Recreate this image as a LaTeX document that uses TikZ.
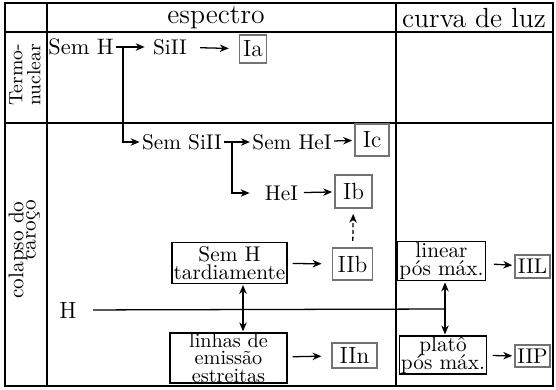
\documentclass[tikz,border=0pt]{standalone}
\usetikzlibrary{arrows.meta}
\newcommand\mytightls{\lineskiplimit=-20pt\relax}
\begin{document}
\begin{tikzpicture}[x=0.47pt,y=-0.47pt,
  >={Stealth[length=4.2pt,width=3.5pt]},
  conn/.style={line width=0.6pt},
  txt/.style={inner sep=1pt, font=\fontsize{10}{12}\selectfont},
  cls/.style={draw=black!55, line width=0.7pt, inner sep=0pt, font=\fontsize{11}{13}\selectfont},
  tbox/.style={draw, line width=0.6pt, inner xsep=0.8pt, inner ysep=0.6pt, align=center},
  gridline/.style={line width=0.8pt},
  hdr/.style={inner sep=1pt, font=\fontsize{13}{15}\selectfont},
  side/.style={rotate=90, inner sep=0pt, font=\fontsize{10}{12}\selectfont}]
\useasboundingbox (0,0) rectangle (556,389);
% table frame
\draw[line width=1pt] (5,3) rectangle (553,386);
\draw[gridline] (47,3) -- (47,386);
\draw[gridline] (396,3) -- (396,386);
\draw[gridline] (5,32) -- (553,32);
\draw[gridline] (5,123) -- (553,123);
% headers
\node[hdr] (hspec) at (216,18) {espectro};
\node[hdr] (hcurva) at (474,18) {curva de luz};
\node[side, align=right, font={\fontsize{9}{8.5}\selectfont}] (termo) at (25,75) {Termo-\\nuclear};
\node[side] (col1) at (18,250) {colapso do};
\node[side] (col2) at (33,230) {caroço};
% nodes
\node[txt, font={\fontsize{10.5}{12}\selectfont}] (semH) at (81,47) {Sem H};
\node[txt] (siII) at (170,47) {SiII};
\node[cls, minimum width=12.7pt, minimum height=13.1pt] (Ia) at (253,49) {Ia};
\node[txt] (semSiII) at (182,142) {Sem SiII};
\node[txt] (semHeI) at (292,142) {Sem HeI};
\node[cls, minimum width=16pt, minimum height=15pt] (Ic) at (372,140) {Ic};
\node[txt] (heI) at (281.5,193) {HeI};
\node[cls, minimum width=17.4pt, minimum height=15.5pt] (Ib) at (353.5,191.5) {Ib};
\node[tbox, inner ysep=1.7pt, font={\fontsize{10}{8.5}\selectfont}] (tard) at (229.5,263) {Sem H\\tardiamente};
\node[cls, minimum width=19pt, minimum height=15pt] (IIb) at (352.5,264) {IIb};
\node[tbox, minimum width=55pt, inner ysep=0pt, font={\fontsize{9.5}{8.4}\selectfont\mytightls}] (linhas) at (228.5,358) {linhas de\\emissão\\estreitas};
\node[cls, minimum width=21pt, minimum height=11.7pt] (IIn) at (354.5,355.5) {IIn};
\node[txt, font={\fontsize{11}{13}\selectfont}] (H) at (68,310) {H};
\node[tbox, font={\fontsize{10}{8.5}\selectfont\mytightls}] (linear) at (441.5,261) {linear\\pós máx.};
\node[cls, font={\fontsize{10}{12}\selectfont}, minimum width=16.4pt, minimum height=10.8pt] (IIL) at (532.5,266.5) {IIL};
\node[tbox, inner ysep=0.2pt, font={\fontsize{10}{8.5}\selectfont\mytightls}] (plato) at (443,355) {platô\\pós máx.};
\node[cls, font={\fontsize{10}{12}\selectfont}, minimum width=16.4pt, minimum height=10.3pt] (IIP) at (532.5,356) {IIP};
% junctions
\coordinate (j1) at (123,47);
\coordinate (j2) at (232,142);
\coordinate (hr) at (445,309);
\coordinate (vl) at (243,309);
% connectors
\draw[conn,->,shorten >=2.8pt] (semH) -- (siII);
\draw[conn,->] (j1) |- (semSiII);
\draw[conn,->,shorten <=5pt,shorten >=4.7pt] (siII) -- (Ia);
\draw[conn,->] (semSiII) -- (semHeI);
\draw[conn,->,shorten >=6pt] (j2) |- (heI);
\draw[conn,->,shorten >=1pt] (semHeI) -- (Ic);
\draw[conn,->,shorten <=1.5pt,shorten >=1pt] (heI) -- (Ib);
\draw[conn,->,dash pattern=on 2pt off 1.2pt,shorten <=3pt,shorten >=2.4pt] (IIb) -- (Ib);
\draw[conn,->,shorten <=2.3pt,shorten >=4.7pt] (tard) -- (IIb);
\draw[conn,->,shorten <=2.3pt,shorten >=4.7pt] (linhas) -- (IIn);
\draw[conn,->,shorten <=3.8pt,shorten >=1pt] (linear) -- (IIL);
\draw[conn,->,shorten <=2.5pt,shorten >=1pt] (plato) -- (IIP);
\draw[conn,shorten <=6.6pt] (H) -- (hr);
\draw[conn,<->,shorten <=0.5pt,shorten >=0.5pt] (tard.south -| vl) -- (linhas.north -| vl);
\draw[conn,<->,shorten <=0.5pt,shorten >=0.5pt] (linear.south -| hr) -- (plato.north -| hr);
\end{tikzpicture}
\end{document}
